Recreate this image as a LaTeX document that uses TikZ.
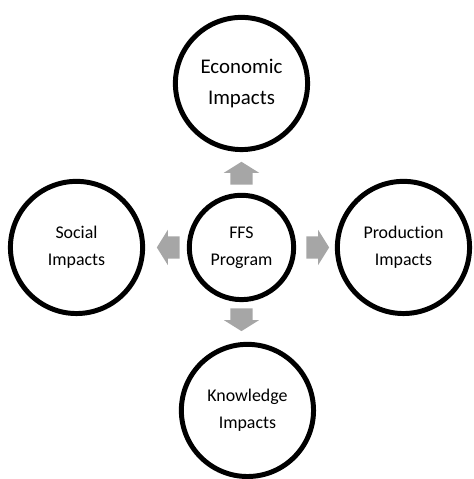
\documentclass[tikz,border=0pt]{standalone}
\usepackage{fontspec}
\setmainfont{Carlito}[Ligatures=NoCommon]
\usetikzlibrary{calc,positioning,shapes.arrows}
\definecolor{arrowgray}{RGB}{166,166,166}
\tikzset{
    hub/.style={
        circle,
        draw=black, line width=5pt,
        minimum size=105pt,
        inner sep=0pt,
        align=center,
        font=\fontsize{18}{27.5}\selectfont
    },
    impact/.style={
        hub,
        minimum size=133pt
    },
    blockarrow/.style={
        single arrow,
        fill=arrowgray,
        anchor=tail,
        inner xsep=0pt, inner ysep=11pt,
        minimum height=23pt,
        single arrow head extend=6.5pt,
        single arrow tip angle=116
    }
}

\begin{document}
\begin{tikzpicture}
    \node[hub] (prog) {FFS\\Program};
    \node[impact, font=\fontsize{21}{32}\selectfont, above=41pt of prog] (econ) {Economic\\Impacts};
    \node[impact, left=42pt of prog] (social) {Social\\Impacts};
    \node[impact, right=39pt of prog] (prod) {Production\\Impacts};
    \node[impact, below=40pt of prog, xshift=6pt] (know) {Knowledge\\Impacts};
    % block arrows in the gaps
    \node[blockarrow, rotate=90] (toecon) at ([yshift=8pt]prog.north) {};
    \node[blockarrow, rotate=180] (tosocial) at ([xshift=-7pt]prog.west) {};
    \node[blockarrow] (toprod) at ([xshift=10pt]prog.east) {};
    \node[blockarrow, rotate=270] (toknow) at ([yshift=-6pt]prog.south) {};
    \useasboundingbox ($(prog.center)+(-243pt,249pt)$) rectangle ++(476pt,-479pt);
\end{tikzpicture}
\end{document}
